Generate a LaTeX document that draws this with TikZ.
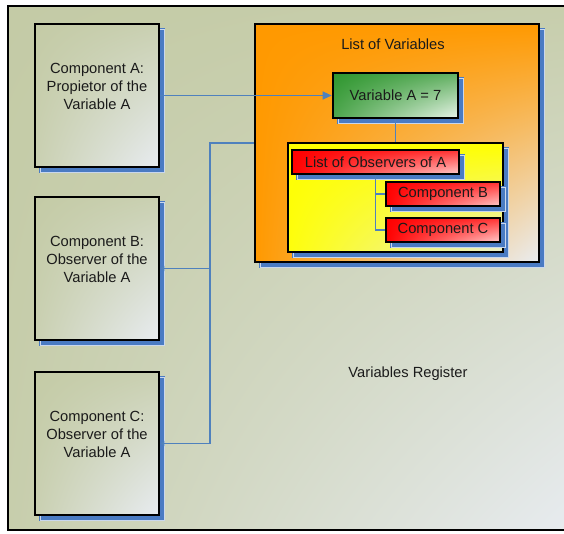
\documentclass[tikz,border=0pt]{standalone}
\usepackage{fontspec}
\setmainfont{Liberation Sans}
\usetikzlibrary{arrows.meta,shadows,shadings}

\definecolor{shadowblue}{HTML}{4A7BC3}
\definecolor{linkblue}{HTML}{4F81BD}
\definecolor{ink}{HTML}{1A1A1A}
\definecolor{olive}{HTML}{C4CBA6}
\definecolor{mist}{HTML}{E8ECF1}
\definecolor{orangefill}{HTML}{FF9900}
\definecolor{greenfill}{HTML}{2E962E}
\definecolor{redfill}{HTML}{FF0000}

\tikzset{
  x=1pt, y=-1pt,
  boxshadow/.style={general shadow={fill=shadowblue, draw=shadowblue,
      line width=1.2pt, double=white!70!shadowblue, double distance=0.4pt,
      shadow xshift=5pt, shadow yshift=-5pt}},
  basebox/.style={rectangle, draw=black, line width=2.6pt, text=ink,
      inner sep=0pt, align=center,
      font=\fontsize{14.7}{18}\selectfont, boxshadow},
  compbox/.style={basebox, minimum width=124pt, minimum height=143pt,
      text depth=18pt,
      upper left=olive, upper right=olive!85!mist,
      lower left=olive!85!mist, lower right=mist},
  regbox/.style={basebox, minimum width=284pt, minimum height=238pt,
      upper left=orangefill, upper right=orangefill,
      lower left=orangefill, lower right=mist!95!white},
  valbox/.style={basebox, minimum width=125pt, minimum height=45pt,
      upper left=greenfill, upper right=greenfill!75!white,
      lower left=greenfill!85!white, lower right=white!90!greenfill},
  obsbox/.style={basebox, minimum width=215pt, minimum height=109pt,
      upper left=yellow, upper right=yellow,
      lower left=yellow!95!mist, lower right=mist!85!yellow},
  redbox/.style={basebox, line width=2.2pt, minimum height=24pt,
      upper left=redfill, lower left=redfill,
      upper right=redfill!80!white, lower right=white!80!redfill},
  plain/.style={text=ink, font=\fontsize{14.7}{18}\selectfont},
  link/.style={draw=linkblue, line width=1.2pt},
}

\begin{document}
\begin{tikzpicture}
\useasboundingbox (0,0) rectangle (564,533);
\clip (0,0) rectangle (564,533);

% register background and frame
\path[upper left=olive, upper right=olive!92!mist, lower left=olive!92!mist,
      lower right=mist] (8,6) rectangle (580,530);
\draw[black, line width=2pt] (8,6) rectangle (580,530);

% components
\node[compbox] (compA) at (97,95.5) {Component A:\\Propietor of the\\Variable A};
\node[compbox] (compB) at (97,268.5) {Component B:\\Observer of the\\Variable A};
\node[compbox] (compC) at (97,443.5) {Component C:\\Observer of the\\Variable A};

% list of variables
\node[regbox] (reg) at (397,143) {};
\node[plain] (regtitle) at (393,44) {List of Variables};
\node[valbox] (varA) at (395.5,95.5) {Variable A = 7};
\node[obsbox] (obsarea) at (395.5,197.5) {};
\node[redbox, minimum width=167pt] (obs) at (375.5,162) {List of Observers of A};
\node[redbox, minimum width=114pt] (obsB) at (443,194) {Component B};
\node[redbox, minimum width=114pt] (obsC) at (443,230) {Component C};

\node[plain] (regname) at (408,374) {Variables Register};

% connectors
\coordinate (bus) at (210,143);
\draw[link, -{Triangle[length=9pt,width=8pt]}] (compA.east) -- (varA.west);
\draw[link, -{Triangle[length=4pt,width=5pt]}] (reg.west) -- (bus) |- (compB.east);
\draw[link, -{Triangle[length=4pt,width=5pt]}] (bus) |- (compC.east);
\draw[link] (varA.south) -- (obsarea.north);
\draw[link] (obs.south) |- (obsB.west);
\draw[link] (obs.south) |- (obsC.west);
\end{tikzpicture}
\end{document}
